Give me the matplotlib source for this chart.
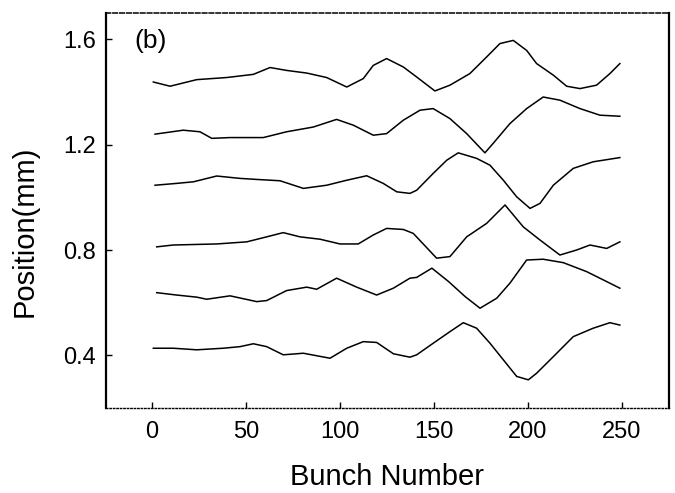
import matplotlib
matplotlib.use("Agg")
import matplotlib.pyplot as plt

# bunch number samples and orbit positions (mm) for each trace, top to bottom
x1 = [0.7, 9.6, 23.8, 39.7, 53.9, 62.8, 71.6, 82.3, 92.9, 103.6, 112.4, 117.7, 124.8, 133.7, 140.8,
      150.5, 158.5, 169.1, 178.0, 185.1, 192.2, 199.3, 204.6, 213.5, 220.6, 227.7, 236.5, 243.6, 248.9]
y1 = [1.438, 1.422, 1.447, 1.455, 1.467, 1.493, 1.482, 1.472, 1.455, 1.419, 1.451, 1.501, 1.527, 1.495, 1.457,
      1.404, 1.426, 1.470, 1.533, 1.584, 1.596, 1.558, 1.508, 1.464, 1.422, 1.413, 1.426, 1.470, 1.508]

x2 = [1.6, 16.6, 25.5, 31.8, 41.5, 59.2, 71.6, 85.8, 98.2, 107.1, 117.7, 124.8, 133.7, 142.6, 149.6,
      158.5, 167.4, 177.1, 181.5, 190.4, 199.3, 208.1, 217.0, 227.7, 238.3, 248.9]
y2 = [1.240, 1.255, 1.249, 1.224, 1.227, 1.227, 1.249, 1.267, 1.296, 1.274, 1.236, 1.242, 1.293, 1.331, 1.337,
      1.299, 1.242, 1.169, 1.205, 1.280, 1.337, 1.381, 1.369, 1.337, 1.312, 1.308]

x3 = [1.6, 13.1, 22.0, 34.4, 46.8, 55.7, 68.1, 80.5, 92.9, 103.6, 114.2, 123.0, 130.2, 137.2, 140.8,
      149.6, 156.8, 162.9, 172.7, 179.8, 186.9, 194.0, 201.1, 206.4, 213.5, 224.1, 234.7, 248.9]
y3 = [1.046, 1.053, 1.059, 1.081, 1.072, 1.068, 1.063, 1.034, 1.046, 1.065, 1.082, 1.053, 1.021, 1.015, 1.027,
      1.091, 1.141, 1.169, 1.148, 1.122, 1.065, 1.002, 0.958, 0.977, 1.046, 1.110, 1.135, 1.151]

x4 = [2.5, 11.3, 34.4, 50.4, 61.0, 69.8, 78.7, 89.4, 100.0, 109.7, 117.7, 124.8, 133.7, 139.0, 151.4,
      158.5, 167.4, 178.0, 187.8, 197.5, 206.4, 217.0, 225.9, 233.0, 241.9, 248.9]
y4 = [0.812, 0.819, 0.823, 0.831, 0.850, 0.866, 0.850, 0.841, 0.823, 0.823, 0.857, 0.882, 0.878, 0.863, 0.769,
      0.775, 0.850, 0.901, 0.971, 0.888, 0.838, 0.781, 0.800, 0.819, 0.806, 0.831]

x5 = [2.5, 13.1, 23.8, 29.1, 41.5, 55.7, 61.0, 71.6, 82.3, 87.6, 98.2, 108.9, 119.5, 128.4, 137.2, 140.8,
      148.9, 157.8, 166.6, 174.5, 183.4, 190.4, 199.3, 208.1, 218.8, 231.2, 241.9, 248.9]
y5 = [0.638, 0.629, 0.621, 0.613, 0.626, 0.604, 0.608, 0.646, 0.659, 0.651, 0.693, 0.659, 0.629, 0.655, 0.693, 0.696,
      0.731, 0.680, 0.623, 0.579, 0.617, 0.674, 0.762, 0.765, 0.752, 0.718, 0.680, 0.655]

x6 = [0.7, 11.3, 23.8, 37.9, 46.8, 53.9, 61.0, 69.8, 80.5, 94.7, 103.6, 112.4, 119.5, 128.4, 137.2, 140.8,
      149.6, 158.5, 165.6, 172.7, 179.8, 186.9, 194.0, 200.2, 204.6, 213.5, 224.1, 234.7, 243.6, 248.9]
y6 = [0.427, 0.427, 0.421, 0.427, 0.433, 0.444, 0.433, 0.402, 0.408, 0.389, 0.427, 0.452, 0.449, 0.406, 0.393, 0.402,
      0.446, 0.490, 0.524, 0.503, 0.446, 0.383, 0.320, 0.307, 0.332, 0.395, 0.471, 0.503, 0.524, 0.515]

xticks = [0, 50, 100, 150, 200, 250]
yticks = [0.4, 0.8, 1.2, 1.6]

plt.rcParams['font.family'] = ['Liberation Sans', 'DejaVu Sans']

fig = plt.figure(figsize=(6.75, 4.93), dpi=100)
ax = fig.add_axes([0.157, 0.1724, 0.834, 0.8012])

for xs, ys in [(x1, y1), (x2, y2), (x3, y3), (x4, y4), (x5, y5), (x6, y6)]:
    ax.plot(xs, ys, color='black', lw=1.1)

ax.set_xlim(-24.5, 275)
ax.set_ylim(0.2, 1.7)
ax.set_xticks(xticks)
ax.set_yticks(yticks)
ax.set_yticklabels(['%.1f' % v for v in yticks])
ax.tick_params(direction='in', length=4, width=1, labelsize=17)
ax.tick_params(axis='x', pad=9)
ax.tick_params(axis='y', pad=7)

# frame: solid left/right, dashed top, dotted bottom
ax.spines['left'].set_linewidth(1.6)
ax.spines['right'].set_linewidth(1.6)
ax.spines['top'].set_linewidth(1.1)
ax.spines['top'].set_linestyle((0, (3, 1.5)))
ax.spines['bottom'].set_linewidth(1.0)
ax.spines['bottom'].set_linestyle((0, (1, 1.5)))

ax.set_xlabel('Bunch Number', fontsize=21, va='center')
ax.xaxis.set_label_coords(0.5, -0.175)
ax.set_ylabel('Position(mm)', fontsize=21, va='center')
ax.yaxis.set_label_coords(-0.144, 0.448)
ax.text(-9.5, 1.592, '(b)', fontsize=19, va='center', ha='left')

fig.savefig('out.png', dpi=100)
